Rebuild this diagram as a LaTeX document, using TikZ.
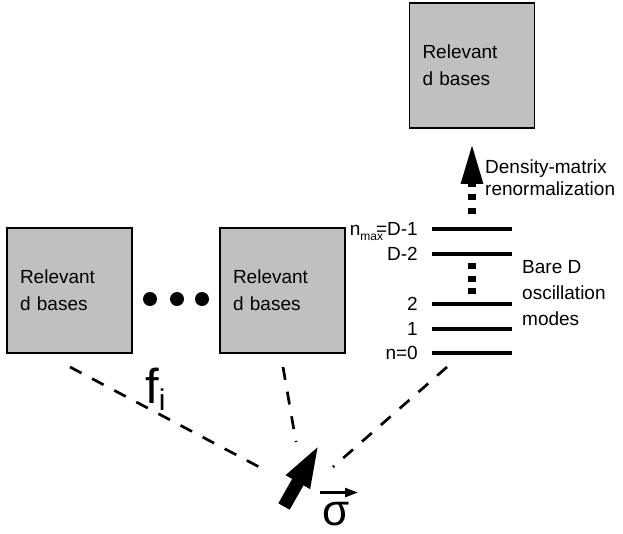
\documentclass[tikz,border=0pt]{standalone}
\usepackage{fontspec}
\setmainfont{Liberation Sans}
\usetikzlibrary{arrows.meta}
\definecolor{boxgray}{RGB}{192,192,192}
\begin{document}
\begin{tikzpicture}[x=1pt,y=-1pt,
  box/.style={draw, line width=1.5pt, fill=boxgray, minimum width=125pt, minimum height=125pt,
    inner xsep=13pt, inner ysep=0pt, text width=99pt, align=left, font=\fontsize{19}{27}\selectfont},
  dotnode/.style={circle, fill=black, inner sep=0pt, minimum size=14pt},
  lev/.style={rectangle, fill=black, inner sep=0pt, minimum width=80pt, minimum height=4.5pt},
  lbl/.style={inner sep=0pt, font=\fontsize{19}{23}\selectfont},
  conn/.style={line width=2.7pt, dash pattern=on 13pt off 12pt},
  levdots/.style={line width=8pt, dash pattern=on 6pt off 6.5pt},
  bigup/.style={line width=8pt, dash pattern=on 6pt off 7.5pt, -{Triangle[length=41pt,width=20pt]}},
  spinarrow/.style={line width=13pt, -{Triangle[length=45pt,width=24pt]}},
  vecarrow/.style={line width=2.5pt, -{Triangle[length=13pt,width=9pt]}}
]
\useasboundingbox (0,0) rectangle (623,533);

% boxes
\node[box] (top) at (472,65.5) {Relevant\\d bases};
\node[box] (left) at (69.5,290.5) {Relevant\\d bases};
\node[box] (mid) at (282.5,290.5) {Relevant\\d bases};

% ellipsis dots
\node[dotnode] (d1) at (150,299) {};
\node[dotnode] (d2) at (177,299) {};
\node[dotnode] (d3) at (202,299) {};

% levels
\node[lev] (lmax) at (472,229) {};
\node[lev] (lD2) at (472,254) {};
\node[lev] (l2) at (472,304) {};
\node[lev] (l1) at (472,329) {};
\node[lev] (l0) at (472,353) {};

% level labels
\node[lbl, anchor=base east] (tmax) at (418,235) {n\raisebox{-5pt}{\fontsize{12}{12}\selectfont max}\kern-7pt=D-1};
\node[lbl, anchor=base east] (tD2) at (418,260) {D-2};
\node[lbl, anchor=base east] (t2) at (418,310) {2};
\node[lbl, anchor=base east] (t1) at (418,335) {1};
\node[lbl, anchor=base east] (t0) at (418,359) {n=0};

% side labels
\node[lbl, anchor=base west] (dm1) at (485,173) {Density-matrix};
\node[lbl, anchor=base west] (dm2) at (485,195) {renormalization};
\node[lbl, anchor=base west] (bd1) at (522,273) {Bare D};
\node[lbl, anchor=base west] (bd2) at (522,299) {oscillation};
\node[lbl, anchor=base west] (bd3) at (522,325) {modes};

% dotted between levels
\draw[levdots, shorten <=7pt, shorten >=7pt] (lD2) -- (l2);
% renormalization arrow
\draw[bigup, shorten <=13pt, shorten >=14pt] (lmax) -- (top);

% spin
\coordinate (stail) at (284,506.5);
\coordinate (stip) at (320,443);
\draw[spinarrow] (stail) -- (stip);

\node[inner sep=0pt, anchor=base west, font=\fontsize{44}{44}\selectfont] (sig) at (322,525) {σ};
\draw[vecarrow] ([shift={(-2pt,9pt)}]sig.north west) -- ([shift={(36pt,9pt)}]sig.north west);

\node[inner sep=0pt, anchor=base west, font=\fontsize{49}{49}\selectfont] (fi) at (145,403) {f\raisebox{-7pt}{\fontsize{30}{30}\selectfont i}};

% dashed connectors
\coordinate (a1) at (70,367);
\coordinate (a2) at (263,469);
\coordinate (b1) at (283,367);
\coordinate (b2) at (296,442);
\coordinate (c1) at (447,367);
\coordinate (c2) at (333,467);
\draw[conn] (a1) -- (a2);
\draw[conn] (b1) -- (b2);
\draw[conn] (c1) -- (c2);
\end{tikzpicture}
\end{document}
